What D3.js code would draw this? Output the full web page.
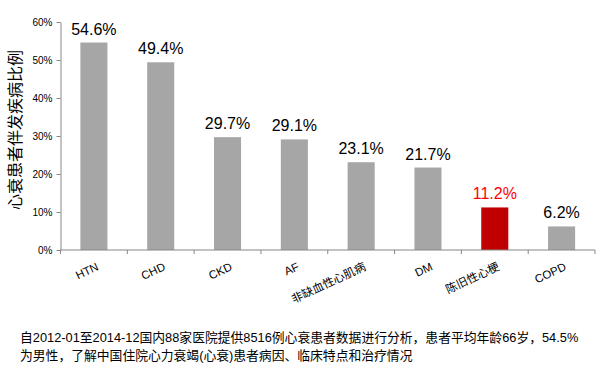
<!DOCTYPE html>
<html><head><meta charset="utf-8">
<script src="https://cdn.jsdelivr.net/npm/d3@7"></script>
<style>body{margin:0;background:#fff;} svg{display:block;font-family:"Liberation Sans",Arial,"Noto Sans CJK SC",sans-serif;}</style>
</head><body>
<svg id="c" width="607" height="369"></svg>
<script>
const categories = ["HTN","CHD","CKD","AF","非缺血性心肌病","DM","陈旧性心梗","COPD"];
const values = [54.6,49.4,29.7,29.1,23.1,21.7,11.2,6.2];
const highlight = ["陈旧性心梗"];
const yTicks = [0,10,20,30,40,50,60];
const yTitle = "心衰患者伴发疾病比例";
const footnote = ["自2012-01至2014-12国内88家医院提供8516例心衰患者数据进行分析，患者平均年龄66岁，54.5%",
                  "为男性，了解中国住院心力衰竭(心衰)患者病因、临床特点和治疗情况"];

const svg = d3.select("#c");
const m = {l:60.5, r:595, t:22, b:250};
const x = d3.scaleBand().domain(categories).range([m.l, m.r]).padding(0);
const y = d3.scaleLinear().domain([0,60]).range([m.b, m.t]);
const bw = x.bandwidth()*0.405;
const cx = d => x(d) + x.bandwidth()/2;

// bars
svg.selectAll("rect.bar").data(categories).enter().append("rect")
  .attr("x", d => cx(d)-bw/2).attr("width", bw)
  .attr("y", (d,i) => y(values[i])).attr("height", (d,i) => y(0)-y(values[i]))
  .attr("fill", d => highlight.includes(d) ? "#c00000" : "#a6a6a6");

// value labels
svg.selectAll("text.val").data(categories).enter().append("text")
  .attr("x", d => cx(d)).attr("y", (d,i) => y(values[i])-8)
  .attr("text-anchor","middle").attr("font-size","16px")
  .attr("fill", d => highlight.includes(d) ? "#ff0000" : "#000")
  .text((d,i) => values[i].toFixed(1)+"%");

// y axis
const ya = svg.append("g").attr("transform",`translate(${m.l},0)`)
  .call(d3.axisLeft(y).tickValues(yTicks).tickSize(4).tickSizeOuter(0).tickFormat(d => d+"%"));
ya.select(".domain").attr("stroke","#868686");
ya.selectAll(".tick line").attr("stroke","#868686");
ya.selectAll(".tick text").attr("font-size","10px").attr("fill","#000").attr("x",-8)
  .style("font-family",'"Liberation Sans",Arial,sans-serif');

// x axis
const xa = svg.append("g").attr("transform",`translate(0,${m.b})`);
xa.append("line").attr("x1",m.l).attr("x2",m.r).attr("stroke","#868686");
const bounds = categories.map(d => x(d)).concat([m.r]);
xa.selectAll("line.t").data(bounds).enter().append("line")
  .attr("x1",d=>d).attr("x2",d=>d).attr("y1",0).attr("y2",4).attr("stroke","#868686");
xa.selectAll("text.cat").data(categories).enter().append("text")
  .attr("transform", d => `translate(${cx(d)+2},${12}) rotate(-25)`)
  .attr("text-anchor","end").attr("dy","0.71em").attr("font-size","11.5px").attr("fill","#000")
  .text(d => d);

// y title
svg.append("text").attr("transform","translate(21,130) rotate(-90)")
  .attr("text-anchor","middle").attr("font-size","16px").attr("fill","#000").text(yTitle);

// footnote
svg.selectAll("text.fn").data(footnote).enter().append("text")
  .attr("x",20).attr("y",(d,i)=>342+i*18).attr("font-size","12.8px").attr("fill","#000").text(d=>d);
</script>
</body></html>
